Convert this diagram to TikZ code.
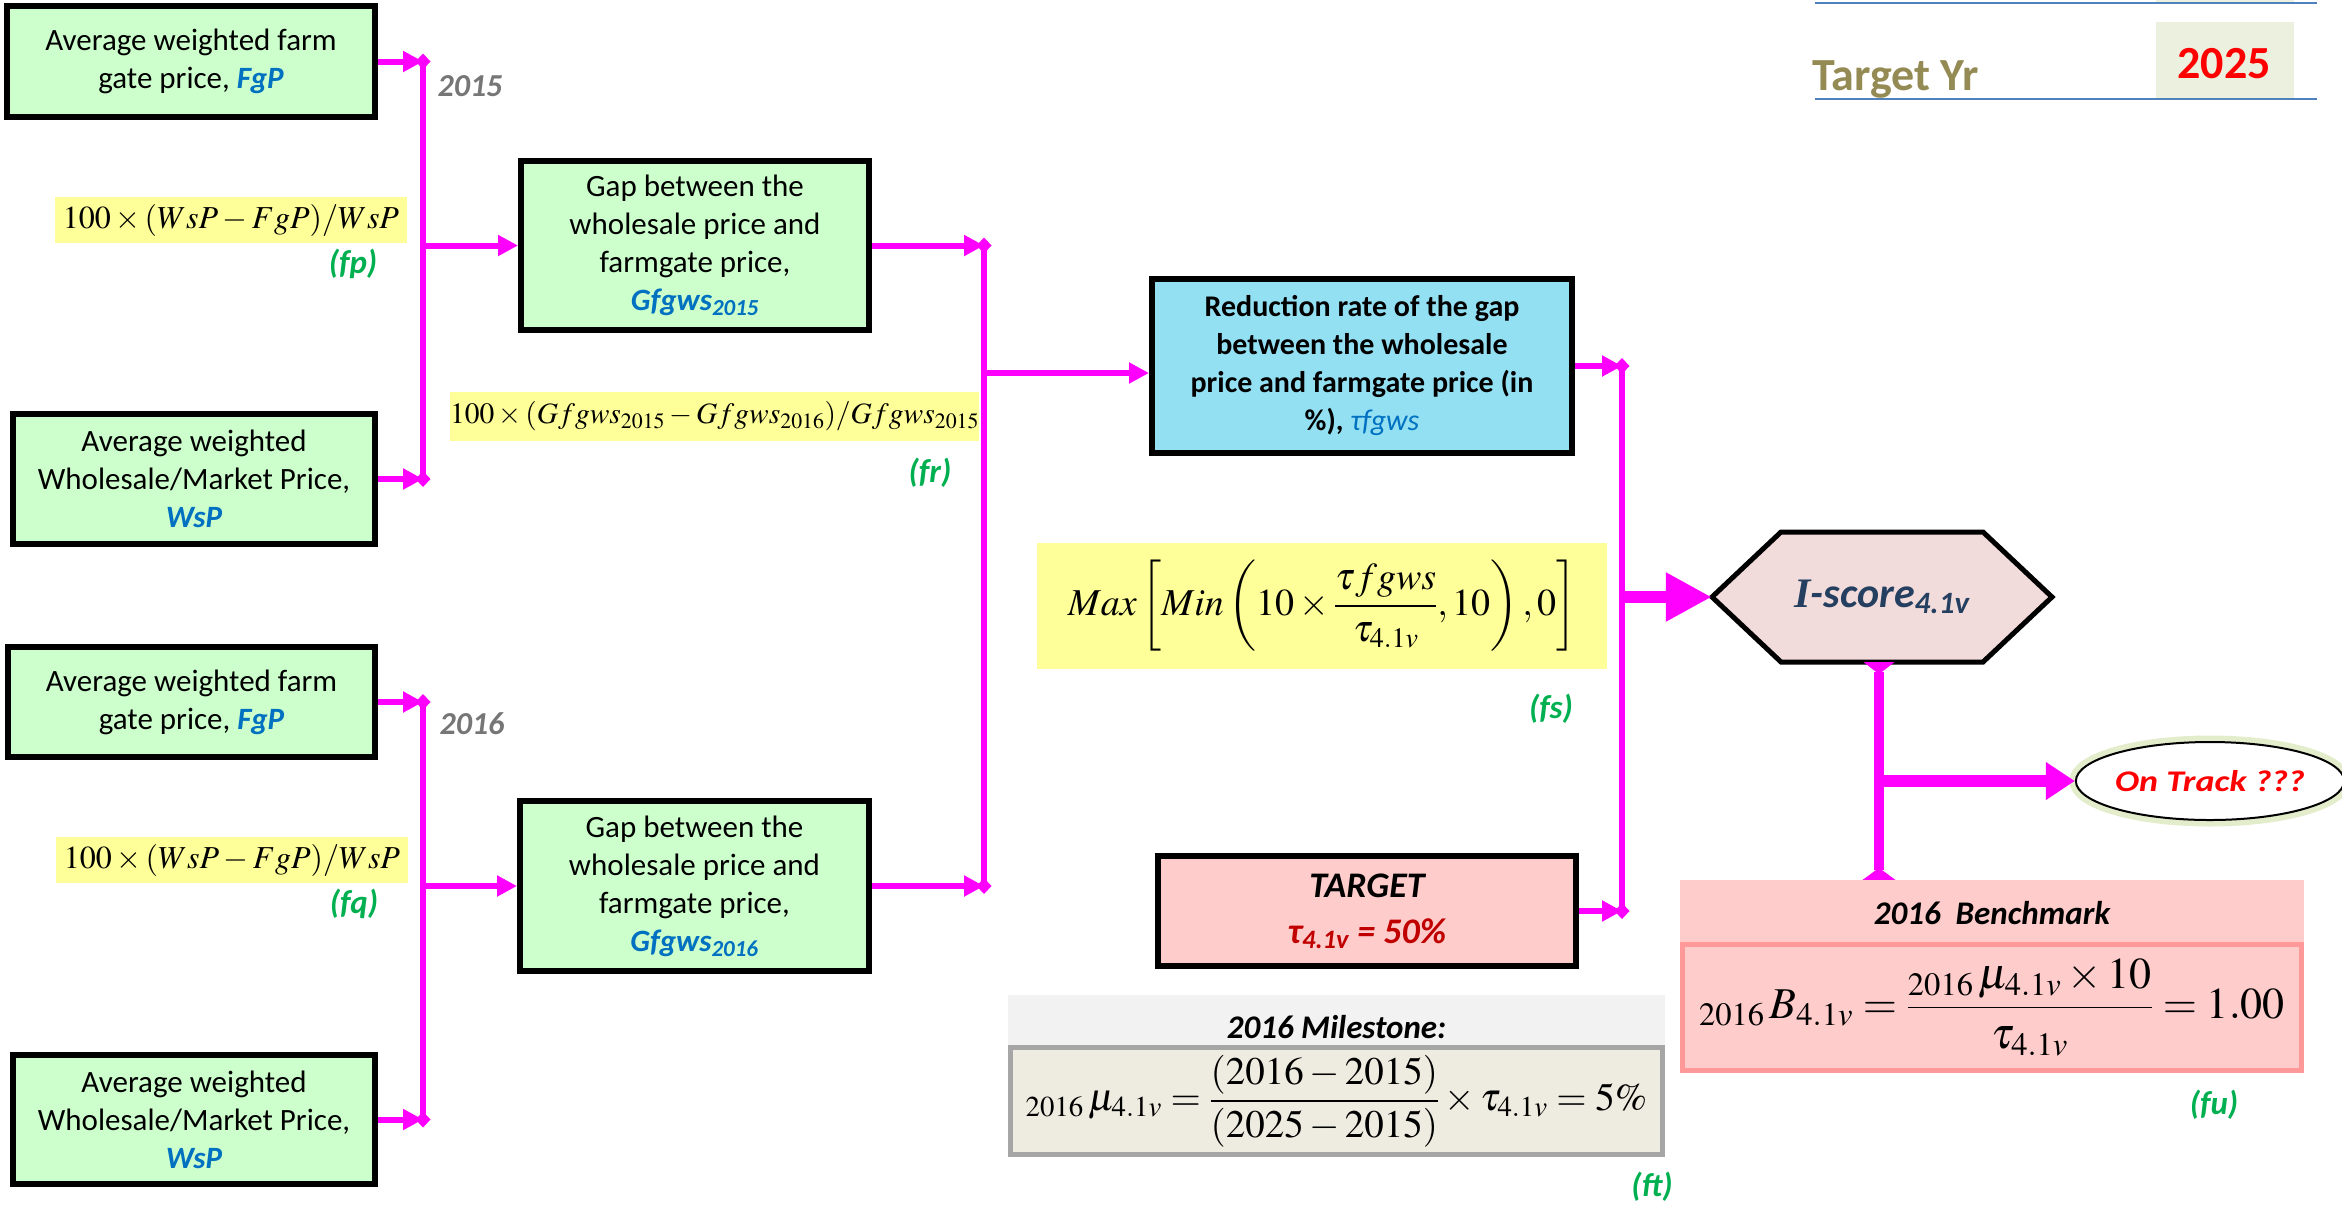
\documentclass[tikz,border=0pt]{standalone}
\usepackage{amsmath}
\usepackage{mathptmx}
\usepackage[no-math]{fontspec}
\setmainfont{Carlito}
\newfontfamily\serifit{Liberation Serif}
\usetikzlibrary{arrows.meta,shapes.geometric,calc}
\definecolor{mag}{HTML}{FF00FF}
\definecolor{boxgreen}{HTML}{CCFFCC}
\definecolor{fyellow}{HTML}{FFFF99}
\definecolor{nblue}{HTML}{0070C0}
\definecolor{cyanbox}{HTML}{93E0F3}
\definecolor{pinkbox}{HTML}{FFCCCC}
\definecolor{pinkline}{HTML}{FF9999}
\definecolor{hexfill}{HTML}{F2DCDB}
\definecolor{msfill}{HTML}{EEECE1}
\definecolor{mshead}{HTML}{F2F2F2}
\definecolor{msline}{HTML}{A6A6A6}
\definecolor{fgreen}{HTML}{00B050}
\definecolor{yeargray}{HTML}{767676}
\definecolor{olivetxt}{HTML}{948A54}
\definecolor{tred}{HTML}{C00000}
\definecolor{tyline}{HTML}{4F81BD}
\definecolor{lgreen}{HTML}{EBF1DE}
\definecolor{iscore}{HTML}{243F60}
\definecolor{glow}{HTML}{E3EDCB}
\tikzset{
  boxg/.style={draw=black, line width=6pt, fill=boxgreen, align=center, inner sep=0pt,
    font=\fontsize{31}{38}\selectfont},
  link/.style={draw=mag, line width=6pt},
  arr/.style={link, -{Triangle[length=20pt,width=20pt]}},
  jn/.style={link, {Diamond[length=16pt,width=15pt]}-{Diamond[length=16pt,width=15pt]}},
  thickarr/.style={draw=mag, line width=12pt, -{Triangle[length=46pt,width=46pt]}},
  thickarrb/.style={draw=mag, line width=12pt, -{Triangle[length=29pt,width=36pt]}},
  hexlink/.style={draw=mag, line width=10pt,
    {Triangle[reversed,length=12pt,width=30pt]}-{Triangle[reversed,length=12pt,width=32pt]}},
  formula/.style={fill=fyellow, inner sep=0pt, font=\fontsize{32}{38}\selectfont},
  flabel/.style={text=fgreen, inner sep=0pt, font=\fontsize{33}{38}\selectfont\bfseries\itshape},
  yearlbl/.style={text=yeargray, inner sep=0pt, font=\fontsize{32}{36}\selectfont\bfseries\itshape},
  headtxt/.style={inner sep=0pt, font=\fontsize{33}{40}\selectfont\bfseries\itshape}
}
\newcommand{\bluevar}[1]{\textcolor{nblue}{\bfseries\itshape #1}}
\begin{document}
\begin{tikzpicture}[x=1pt,y=-1pt]
\useasboundingbox (0,0) rectangle (2342,1211);

% ---- Target year corner
\fill[lgreen] (2156,22) rectangle (2294,99);
\fill[lgreen] (2156,0) rectangle (2294,3);
\draw[tyline, line width=2.5pt] (1815,3) -- (2317,3);
\draw[tyline, line width=2.5pt] (1815,99) -- (2317,99);
\node[anchor=base west, inner sep=0pt, text=olivetxt, font=\fontsize{46}{50}\selectfont\bfseries] (tyr) at (1812,90) {Target Yr};
\node[anchor=base, inner sep=0pt, text=red, font=\fontsize{46}{50}\selectfont\bfseries] (tyv) at (2224,78) {2025};

% ---- 2015 block
\node[boxg, minimum width=368pt, minimum height=111pt] (fgp15) at (191,61.5)
  {Average weighted farm\\gate price, \bluevar{FgP}};
\node[boxg, minimum width=362pt, minimum height=130pt] (wsp15) at (194,479)
  {Average weighted\\Wholesale/Market Price,\\\bluevar{WsP}};
\node[boxg, minimum width=348pt, minimum height=169pt] (gap15) at (695,245.5)
  {Gap between the\\wholesale price and\\farmgate price,\\\bluevar{Gfgws\textsubscript{2015}}};
\node[formula, minimum width=352pt, minimum height=46pt] (fp) at (231,220)
  {$100\times(WsP-FgP)/WsP$};
\node[flabel] (fplbl) at (353,264) {(fp)};
\node[yearlbl] (y15) at (470,86) {2015};

% ---- 2016 block
\node[boxg, minimum width=367pt, minimum height=110pt] (fgp16) at (191.5,702)
  {Average weighted farm\\gate price, \bluevar{FgP}};
\node[boxg, minimum width=362pt, minimum height=129pt] (wsp16) at (194,1119.5)
  {Average weighted\\Wholesale/Market Price,\\\bluevar{WsP}};
\node[boxg, minimum width=349pt, minimum height=170pt] (gap16) at (694.5,886)
  {Gap between the\\wholesale price and\\farmgate price,\\\bluevar{Gfgws\textsubscript{2016}}};
\node[formula, minimum width=352pt, minimum height=46pt] (fq) at (232,860)
  {$100\times(WsP-FgP)/WsP$};
\node[flabel] (fqlbl) at (354,904) {(fq)};
\node[yearlbl] (y16) at (472,724) {2016};

% ---- reduction rate
\node[formula, minimum width=529pt, minimum height=49pt, font=\fontsize{29.5}{36}\selectfont] (fr) at (714.5,416.5)
  {$100\times(Gfgws_{2015}-Gfgws_{2016})/Gfgws_{2015}$};
\node[flabel] (frlbl) at (930,473) {(fr)};
\node[draw=black, line width=6pt, fill=cyanbox, align=center, inner sep=0pt,
  minimum width=420pt, minimum height=174pt, font=\fontsize{30}{38}\selectfont\bfseries] (red) at (1362,366)
  {Reduction rate of the gap\\between the wholesale\\price and farmgate price (in\\\%), {\mdseries\itshape\color{nblue}τfgws}};

% ---- score formula
\node[formula, minimum width=570pt, minimum height=126pt, font=\fontsize{38}{44}\selectfont] (fs) at (1322,606)
  {$Max\left[Min\left(10\times\dfrac{\tau fgws}{\tau_{4.1v}},10\right),0\right]$};
\node[flabel] (fslbl) at (1551,709) {(fs)};

% ---- target
\node[draw=black, line width=6pt, fill=pinkbox, align=center, inner sep=0pt,
  minimum width=418pt, minimum height=110pt, font=\fontsize{36}{46}\selectfont\bfseries\itshape] (target) at (1367,911)
  {TARGET\\\textcolor{tred}{τ\textsubscript{4.1v} = 50\%}};

% ---- milestone
\node[fill=mshead, inner sep=0pt, minimum width=657pt, minimum height=50pt] (msthead) at (1336.5,1020) {};
\node[headtxt] (mstitle) at (1336.5,1027) {2016 Milestone:};
\node[draw=msline, line width=5pt, fill=msfill, inner sep=0pt, minimum width=652pt, minimum height=107pt,
  font=\fontsize{39}{44}\selectfont] (msbox) at (1336.5,1101)
  {${}_{2016}\,\mu_{4.1v}=\dfrac{(2016-2015)}{(2025-2015)}\times\tau_{4.1v}=5\%$};
\node[flabel] (ftlbl) at (1652,1187) {(ft)};

% ---- I-score hexagon
\draw[black, line width=5pt, fill=hexfill] (1712,597) -- (1781,532) -- (1983,532) -- (2052,597)
  -- (1983,662) -- (1781,662) -- cycle;
\node[inner sep=0pt, minimum width=340pt, minimum height=130pt, text=iscore,
  font=\fontsize{42}{48}\selectfont\bfseries] (hex) at (1882,597)
  {{\serifit\itshape I}{\itshape -score}\textsubscript{\itshape 4.1v}};

% ---- on track
\node[ellipse, draw=black, line width=2pt, fill=white, preaction={draw=glow, line width=13pt},
  minimum width=259pt, minimum height=78pt, inner sep=0pt, text=red,
  font=\fontsize{30}{36}\selectfont\bfseries\itshape] (ontrack) at (2210,781) {\scalebox{1.2}[1]{On Track ???}};

% ---- benchmark
\node[fill=pinkbox, inner sep=0pt, minimum width=624pt, minimum height=62pt] (bmhead) at (1992,911) {};
\node[headtxt] (bmtitle) at (1992,913) {2016\ \ Benchmark};
\node[draw=pinkline, line width=5pt, fill=pinkbox, inner sep=0pt, minimum width=619pt, minimum height=126pt,
  font=\fontsize{44}{50}\selectfont] (bmbox) at (1992,1007.5)
  {${}_{2016}\,B_{4.1v}=\dfrac{{}_{2016}\,\mu_{4.1v}\times 10}{\tau_{4.1v}}=1.00$};
\node[flabel] (fulbl) at (2214,1105) {(fu)};

% ---- junction coordinates
\coordinate (ja) at (423,0);
\coordinate (jg) at (984,0);
\coordinate (jr) at (1622,0);

% ---- connectors 2015
\draw[jn] ($(fgp15.east -| ja)+(0,-8)$) -- ($(wsp15.east -| ja)+(0,8)$);
\draw[arr] (fgp15.east) -- (fgp15.east -| ja);
\draw[arr] (wsp15.east) -- (wsp15.east -| ja);
\draw[arr] (gap15.west -| ja) -- (gap15.west);
% ---- connectors 2016
\draw[jn] ($(fgp16.east -| ja)+(0,-8)$) -- ($(wsp16.east -| ja)+(0,8)$);
\draw[arr] (fgp16.east) -- (fgp16.east -| ja);
\draw[arr] (wsp16.east) -- (wsp16.east -| ja);
\draw[arr] (gap16.west -| ja) -- (gap16.west);
% ---- gaps to reduction
\draw[jn] ($(gap15.east -| jg)+(0,-8)$) -- ($(gap16.east -| jg)+(0,8)$);
\draw[arr] (gap15.east) -- (gap15.east -| jg);
\draw[arr] (gap16.east) -- (gap16.east -| jg);
\draw[arr] ($(red.west -| jg)+(0,7)$) -- ($(red.west)+(0,7)$);
% ---- reduction and target to score
\draw[jn] ($(red.east -| jr)+(0,-8)$) -- ($(target.east -| jr)+(0,8)$);
\draw[arr] (red.east) -- (red.east -| jr);
\draw[arr] (target.east) -- (target.east -| jr);
\draw[thickarr] (hex.west -| jr) -- (hex.west);
% ---- score to benchmark and on track
\draw[hexlink] ($(hex.south)+(-3,0)$) -- ($(hex.south |- bmhead.north)+(-3,0)$);
\draw[thickarrb] ($(hex.south |- ontrack.west)+(-3,0)$) -- (ontrack.west);
\end{tikzpicture}
\end{document}
